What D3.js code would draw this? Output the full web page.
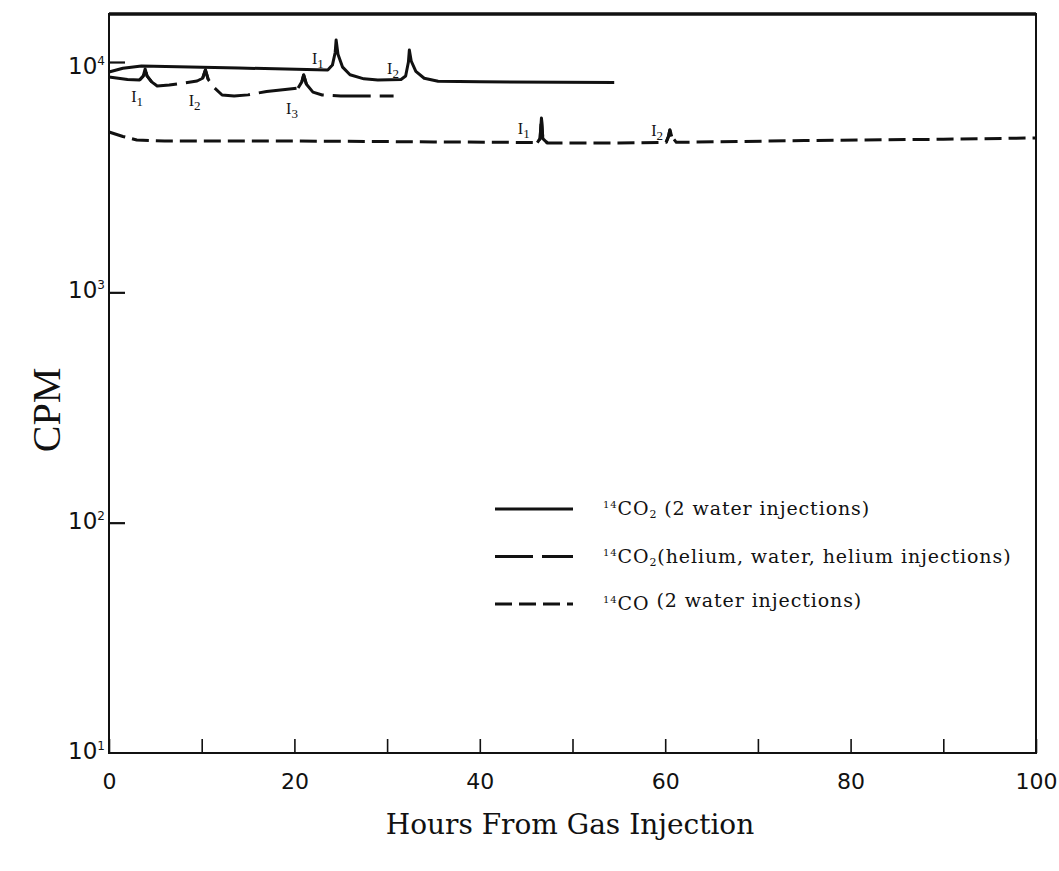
<!DOCTYPE html>
<html>
<head>
<meta charset="utf-8">
<script src="https://cdn.jsdelivr.net/npm/d3@7/dist/d3.min.js"></script>
<style>
  body { margin: 0; background: #fff; }
  svg { display: block; }
</style>
</head>
<body>
<div id="chart-area"></div>
<script>

// data: [hours, CPM]
var co2Water = [
	[0, 9049], [1.5, 9400], [3.5, 9608], [14, 9418], [23.6, 9232], [24.1, 9700],
	[24.4, 11000], [24.5, 12460], [24.7, 10800], [25.2, 9500], [26, 8800], [27.5, 8450],
	[29, 8353], [31.5, 8400], [32.0, 8700], [32.3, 10000], [32.4, 11275], [32.6, 10100],
	[33.1, 9100], [34, 8500], [35.5, 8250], [40, 8200], [54.5, 8150]
];

var co2Helium = [
	[0, 8607], [2, 8400], [3.3, 8353], [3.7, 8700], [3.9, 9325], [4.1, 8700],
	[4.6, 8200], [5.2, 7866], [6.5, 7950], [8, 8100], [9.5, 8270], [10.1, 8500],
	[10.4, 9232], [10.7, 8400], [11.4, 7700], [12.2, 7191], [13.5, 7120], [15, 7200],
	[17, 7450], [19, 7600], [20.4, 7711], [20.8, 8200], [21.0, 8782], [21.3, 8000],
	[22, 7400], [23, 7191], [25, 7120], [30.7, 7120]
];

var coWater = [
	[0, 4968], [1.5, 4750], [3, 4584], [6, 4538], [20, 4538], [35, 4500], [46.2, 4470],
	[46.5, 4650], [46.65, 5713], [46.8, 4650], [47.3, 4448], [55, 4448], [60.1, 4480],
	[60.35, 4750], [60.5, 5067], [60.7, 4750], [61.2, 4480], [75, 4560], [90, 4620],
	[100, 4681]
];

// injection times (hours) for the dashed series, so the peaks stay drawn through the dash gaps
var heliumInj = [3.9, 10.4, 21.0];
var coInj = [46.65, 60.5];

// injection marks: hour, CPM at label baseline, subscript
var markLabels = [
	{h: 21.9, v: 9802, n: "1"}, {h: 30.0, v: 8868, n: "2"},
	{h: 2.4, v: 6703, n: "1"}, {h: 8.6, v: 6439, n: "2"}, {h: 19.1, v: 5945, n: "3"},
	{h: 44.1, v: 4870, n: "1"}, {h: 58.5, v: 4774, n: "2"}
];

var xTicks = [0, 10, 20, 30, 40, 50, 60, 70, 80, 90, 100];
var yTicks = [10, 100, 1000, 10000];
var yExp = ["1", "2", "3", "4"];

var legendNames = [
	["14", "CO", "2", " (2 water injections)"],
	["14", "CO", "2", "(helium, water, helium injections)"],
	["14", "CO", "", "  (2 water injections)"]
];
var dashes = [null, "38,9", "17,7"];

var width = 1059, height = 871;
var margin = {left: 109, right: 1036, top: 14, bottom: 753};

var svg = d3.select("#chart-area").append("svg")
	.attr("width", width)
	.attr("height", height);

var x = d3.scaleLinear().domain([0, 100]).range([margin.left, margin.right]);
var y = d3.scaleLog().domain([10, 16160]).range([margin.bottom, margin.top]);

// x axis, ticks pointing in
var xAxis = d3.axisBottom(x)
	.tickValues(xTicks)
	.tickSize(-14)
	.tickPadding(20)
	.tickFormat(function(d) { return d % 20 === 0 ? d : ""; });

var gx = svg.append("g")
	.attr("transform", "translate(0," + margin.bottom + ")")
	.call(xAxis);
gx.select(".domain").remove();
gx.selectAll("line").attr("stroke", "#111").attr("stroke-width", 1.6);
gx.selectAll("text")
	.attr("font-family", "DejaVu Sans")
	.attr("font-size", 22)
	.attr("fill", "#111");

var yAxis = d3.axisLeft(y)
	.tickValues(yTicks.slice(1))
	.tickSize(-16)
	.tickFormat("");
var gy = svg.append("g")
	.attr("transform", "translate(" + margin.left + ",0)")
	.call(yAxis);
gy.select(".domain").remove();
gy.selectAll("line").attr("stroke", "#111").attr("stroke-width", 2.2);

yTicks.forEach(function(t, i) {
	var txt = svg.append("text")
		.attr("x", margin.left - 4)
		.attr("y", y(t) + (i === 3 ? 12 : 6))
		.attr("text-anchor", "end")
		.attr("font-family", "DejaVu Sans")
		.attr("font-size", 23)
		.attr("fill", "#111");
	txt.append("tspan").text("10");
	txt.append("tspan").attr("font-size", 12).attr("dy", -9).text(yExp[i]);
});

// frame
svg.append("rect")
	.attr("x", margin.left).attr("y", margin.top)
	.attr("width", margin.right - margin.left).attr("height", margin.bottom - margin.top)
	.attr("fill", "none").attr("stroke", "#111").attr("stroke-width", 2);
svg.append("line")
	.attr("x1", margin.left).attr("x2", margin.right)
	.attr("y1", margin.top).attr("y2", margin.top)
	.attr("stroke", "#111").attr("stroke-width", 3.5);

var line = d3.line()
	.x(function(d) { return x(d[0]); })
	.y(function(d) { return y(d[1]); });

function drawPath(s, dash) {
	svg.append("path")
		.datum(s)
		.attr("d", line)
		.attr("fill", "none")
		.attr("stroke", "#111")
		.attr("stroke-width", 3)
		.attr("stroke-linejoin", "round")
		.attr("stroke-dasharray", dash);
}

[co2Water, co2Helium, coWater].forEach(function(s, i) {
	drawPath(s, dashes[i]);
});

// peaks of the dashed curves drawn solid
function peaks(s, times, w) {
	times.forEach(function(t) {
		drawPath(s.filter(function(d) { return Math.abs(d[0] - t) <= w; }), null);
	});
}
peaks(co2Helium, heliumInj, 0.75);
peaks(coWater, coInj, 0.7);

markLabels.forEach(function(m) {
	var t = svg.append("text")
		.attr("x", x(m.h))
		.attr("y", y(m.v))
		.attr("font-family", "Liberation Serif")
		.attr("font-size", 16)
		.attr("fill", "#111");
	t.append("tspan").text("I");
	t.append("tspan").attr("font-size", 13).attr("dy", 4).text(m.n);
});

// legend
legendNames.forEach(function(n, i) {
	var ly = 509 + i * 47.5;
	svg.append("line")
		.attr("x1", 495).attr("x2", 573)
		.attr("y1", ly).attr("y2", ly)
		.attr("stroke", "#111").attr("stroke-width", 3)
		.attr("stroke-dasharray", dashes[i]);
	var t = svg.append("text")
		.attr("x", 603).attr("y", ly + 6)
		.attr("font-family", "DejaVu Serif")
		.attr("font-size", 19)
		.attr("letter-spacing", 0.9)
		.attr("fill", "#111");
	t.append("tspan").attr("font-size", 10).attr("dy", -7).text(n[0]);
	t.append("tspan").attr("dy", 7).text(n[1]);
	t.append("tspan").attr("font-size", 11).attr("dy", 3).text(n[2]);
	t.append("tspan").attr("dy", -3).text(n[3]);
});

// axis titles
svg.append("text")
	.attr("x", 570).attr("y", 834)
	.attr("text-anchor", "middle")
	.attr("font-family", "DejaVu Serif")
	.attr("font-size", 28)
	.attr("fill", "#111")
	.text("Hours From Gas Injection");

svg.append("text")
	.attr("transform", "translate(60,410) rotate(-90)")
	.attr("text-anchor", "middle")
	.attr("font-family", "Liberation Serif")
	.attr("font-size", 40)
	.attr("fill", "#111")
	.text("CPM");

</script>
</body>
</html>
